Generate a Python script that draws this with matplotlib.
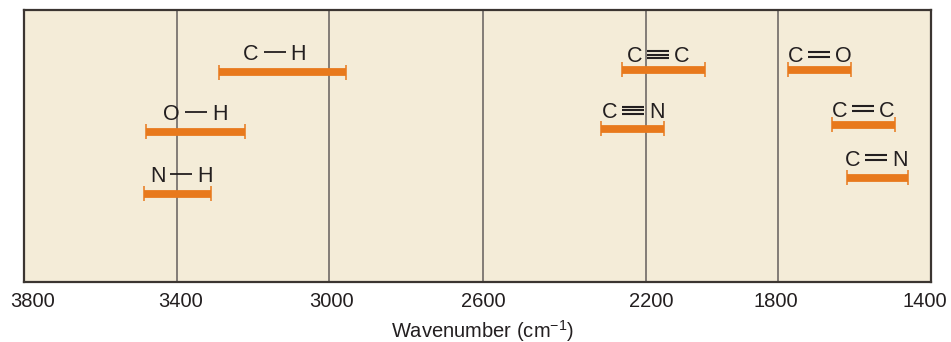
import numpy as np
import matplotlib.pyplot as plt
from matplotlib.transforms import offset_copy, ScaledTranslation

plt.rcParams['font.family'] = ['Liberation Sans', 'DejaVu Sans']
plt.rcParams['mathtext.fontset'] = 'custom'
plt.rcParams['mathtext.rm'] = 'Liberation Sans'

# bond stretch ranges, cm-1
left_atom = ['C', 'O', 'N', 'C', 'C', 'C', 'C', 'C']
right_atom = ['H', 'H', 'H', 'C', 'N', 'O', 'C', 'N']
bond_order = [1, 1, 1, 3, 3, 2, 2, 2]
wn_high = [3290, 3480, 3485, 2260, 2310, 1775, 1660, 1620]
wn_low = [2955, 3220, 3310, 2020, 2145, 1610, 1495, 1460]
row = [0.772, 0.553, 0.325, 0.78, 0.564, 0.78, 0.578, 0.383]

# label placement relative to bar centre (px)
label_dx = [-8, 0, 3.5, -5.5, 0.5, 0, 0, -1]
label_dy = [12, 11.3, 11.4, 7.4, 10.3, 7.5, 8.1, 12.3]

tick_wn = [3800, 3400, 3000, 2600, 2200, 1800, 1400]
# printed axis is not evenly spaced: distance of each tick from the right edge (px)
tick_px = [907, 754, 602, 448, 285, 153, 0]

wn_up = tick_wn[::-1]
px_up = tick_px[::-1]


def forward(x):
    return np.interp(x, wn_up, px_up)


def inverse(u):
    return np.interp(u, px_up, wn_up)


orange = '#e8791c'
ink = '#231f20'

fig = plt.figure(figsize=(9.51, 3.42), dpi=100)
ax = fig.add_axes([24 / 951, 60 / 342, 907 / 951, 272 / 342])
ax.set_facecolor('#f4ecd8')
ax.set_xscale('function', functions=(forward, inverse))
ax.set_xlim(3800, 1400)
ax.set_ylim(0, 1)

# vertical guide lines
ax.vlines(tick_wn[1:-1], 0, 1, transform=ax.get_xaxis_transform(),
          color='#7a746f', lw=1.3, zorder=1)

# range bars with end caps
ax.hlines(row, wn_low, wn_high, color=orange, lw=5.6, zorder=3)
cap = 7.5 / 272
for lo, hi, y in zip(wn_low, wn_high, row):
    ax.vlines([lo, hi], y - cap, y + cap, color=orange, lw=1.1, zorder=3)

# bond labels: atom, drawn bond, atom
bond_offsets = {1: [0], 2: [-2.4, 2.4], 3: [-3.6, 0, 3.6]}
for a1, a2, n, lo, hi, y, dx, dy in zip(left_atom, right_atom, bond_order,
                                        wn_low, wn_high, row, label_dx, label_dy):
    mid = inverse((forward(lo) + forward(hi)) / 2)
    ax.text(mid, y, a1, ha='right', va='baseline', fontsize=15.5, color=ink,
            transform=offset_copy(ax.transData, fig, x=dx - 16, y=dy, units='dots'))
    ax.text(mid, y, a2, ha='left', va='baseline', fontsize=15.5, color=ink,
            transform=offset_copy(ax.transData, fig, x=dx + 16, y=dy, units='dots'))
    for off in bond_offsets[n]:
        ax.plot(mid, y, marker='_', ms=15.8, mew=1.3 if n == 1 else 1.5, color=ink,
                transform=offset_copy(ax.transData, fig, x=dx, y=dy + 7.8 + off, units='dots'))

ax.set_xticks(tick_wn)
ax.set_xticklabels([str(t) for t in tick_wn])
ax.set_yticks([])
ax.tick_params(axis='x', length=0, pad=7, labelsize=14.5, labelcolor=ink)
ticks = ax.xaxis.get_major_ticks()
shift = [9, 4, 3, 0, 5, -2, -6]
for t, s in zip(ticks, shift):
    t.label1.set_transform(t.label1.get_transform() + ScaledTranslation(s / 100, 0, fig.dpi_scale_trans))

for s in ax.spines.values():
    s.set_color('#3b3531')
    s.set_linewidth(1.6)

ax.set_xlabel('Wavenumber (cm$^{-1}$)', fontsize=14.5, color=ink)
ax.xaxis.label.set_va('center')
ax.xaxis.set_label_coords(0.505, -49 / 272)

fig.savefig('out.png', dpi=100)
